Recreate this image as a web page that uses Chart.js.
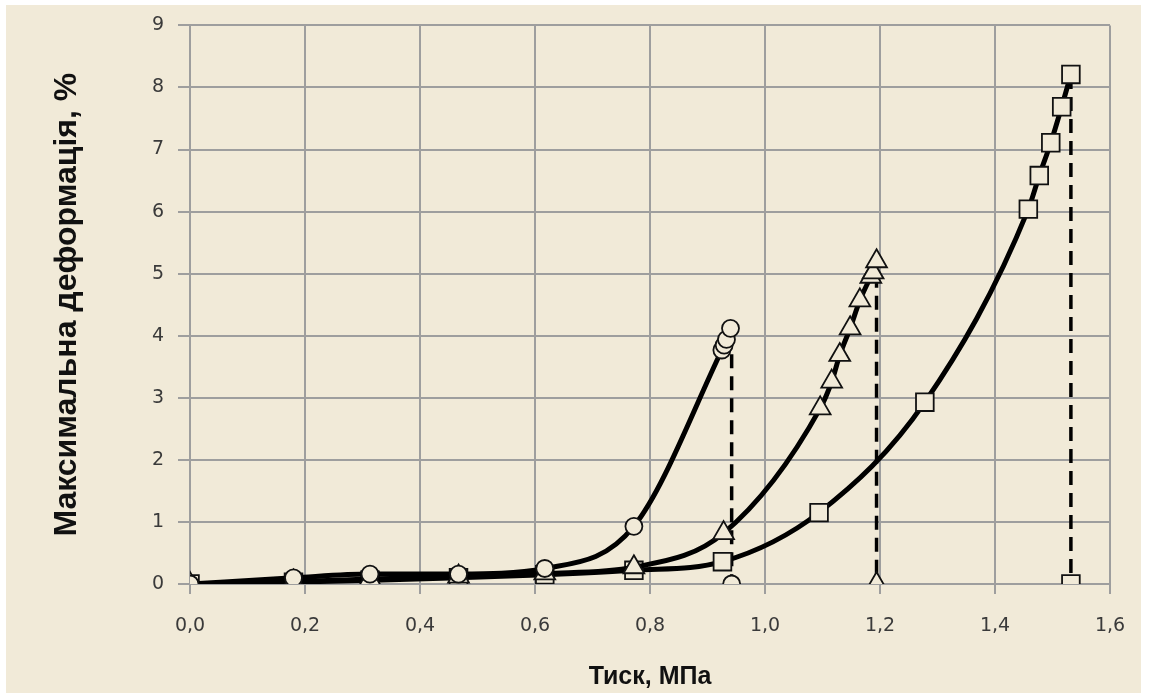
<!DOCTYPE html>
<html>
<head>
<meta charset="utf-8">
<script src="https://cdn.jsdelivr.net/npm/chart.js@4.4.0/dist/chart.umd.min.js"></script>
<style>
  html, body { margin: 0; padding: 0; background: #ffffff; }
  #frame { position: absolute; left: 6px; top: 5px; width: 1135px; height: 688px; background: #F1EAD8; }
  #wrap { position: absolute; left: 0; top: 0; width: 1152px; height: 699px; }
</style>
</head>
<body>
<div id="frame"></div>
<div id="wrap"><canvas id="chart" width="1152" height="699"></canvas></div>
<script>
// pressure, MPa / max deformation, %
var circleX = [0, 0.18, 0.313, 0.467, 0.617, 0.772, 0.925, 0.929, 0.933, 0.94];
var circleY = [0, 0.10, 0.16, 0.16, 0.25, 0.93, 3.77, 3.85, 3.94, 4.12];

var triX = [0, 0.18, 0.313, 0.467, 0.617, 0.772, 0.928, 1.096, 1.116, 1.130, 1.148, 1.165, 1.184, 1.188, 1.194];
var triY = [0, 0.04, 0.08, 0.12, 0.17, 0.27, 0.82, 2.83, 3.26, 3.69, 4.12, 4.57, 4.95, 5.02, 5.2];

var squareX = [0, 0.18, 0.313, 0.467, 0.617, 0.772, 0.926, 1.094, 1.278, 1.458, 1.477, 1.497, 1.516, 1.532];
var squareY = [0, 0.03, 0.06, 0.10, 0.15, 0.22, 0.36, 1.15, 2.93, 6.04, 6.58, 7.11, 7.69, 8.21];

// failure drops (dashed)
var dropX = [0.942, 1.194, 1.532];
var dropTop = [3.7, 5.0, 8.2];
var dropBottom = [0, 0, 0];

var xTicks = [0, 0.2, 0.4, 0.6, 0.8, 1.0, 1.2, 1.4, 1.6];
var yTicks = [0, 1, 2, 3, 4, 5, 6, 7, 8, 9];

function pts(xs, ys) {
    return xs.map(function(x, i) { return {x: x, y: ys[i]}; });
}

var bg = '#F1EAD8';
var gridColor = '#9e9e9e';
var styles = ['circle', 'triangle', 'rect'];
var radii = [8.5, 12, 12.5];

var datasets = [];
// dashed verticals, drawn behind
for (var i = 0; i < dropX.length; i++) {
    datasets.push({
        data: [{x: dropX[i], y: dropTop[i]}, {x: dropX[i], y: dropBottom[i]}],
        borderColor: '#000',
        borderWidth: 3.5,
        borderDash: [14, 8],
        pointStyle: styles[i],
        pointRadius: [0, radii[i]],
        pointBackgroundColor: bg,
        pointBorderColor: '#111',
        pointBorderWidth: 1.8,
        order: 5
    });
}
var curves = [pts(squareX, squareY), pts(triX, triY), pts(circleX, circleY)];
var curveStyles = ['rect', 'triangle', 'circle'];
var curveRadii = [12.5, 12, 8.5];
curves.forEach(function(d, i) {
    datasets.push({
        data: d,
        borderColor: '#000',
        borderWidth: 5,
        cubicInterpolationMode: 'monotone',
        pointStyle: curveStyles[i],
        pointRadius: curveRadii[i],
        pointBackgroundColor: bg,
        pointBorderColor: '#111',
        pointBorderWidth: 1.8,
        order: 3 - i
    });
});

var tickFont = {family: '"DejaVu Sans", Verdana, sans-serif', size: 19};

new Chart(document.getElementById('chart'), {
    type: 'line',
    data: {datasets: datasets},
    options: {
        responsive: false,
        animation: false,
        layout: {padding: {left: 40, right: 42, top: 25, bottom: 4}},
        plugins: {legend: {display: false}, tooltip: {enabled: false}},
        scales: {
            x: {
                type: 'linear',
                min: 0, max: 1.6,
                afterBuildTicks: function(scale) {
                    scale.ticks = xTicks.map(function(v) { return {value: v}; });
                },
                afterFit: function(scale) { scale.height = 111; },
                grid: {color: gridColor, lineWidth: 2, tickLength: 10},
                border: {color: gridColor, width: 2},
                ticks: {
                    color: '#3a3a3a', font: tickFont, padding: 21,
                    callback: function(v) { return v.toFixed(1).replace('.', ','); }
                },
                title: {
                    display: true, text: 'Тиск, МПа', color: '#111',
                    font: {family: '"Liberation Sans Narrow", "Liberation Sans", Arial, sans-serif', size: 25, weight: 'bold'},
                    padding: {top: 0, bottom: 3}
                }
            },
            y: {
                type: 'linear',
                min: 0, max: 9,
                afterBuildTicks: function(scale) {
                    scale.ticks = yTicks.map(function(v) { return {value: v}; });
                },
                afterFit: function(scale) { scale.width = 150; },
                grid: {color: gridColor, lineWidth: 2, tickLength: 12},
                border: {color: gridColor, width: 2},
                ticks: {color: '#3a3a3a', font: tickFont, padding: 14},
                title: {
                    display: true, text: 'Максимальна деформація, %', color: '#111',
                    font: {family: '"Liberation Sans", Arial, sans-serif', size: 32, weight: 'bold'},
                    padding: {top: 8, bottom: 0}
                }
            }
        }
    }
});
</script>
</body>
</html>
